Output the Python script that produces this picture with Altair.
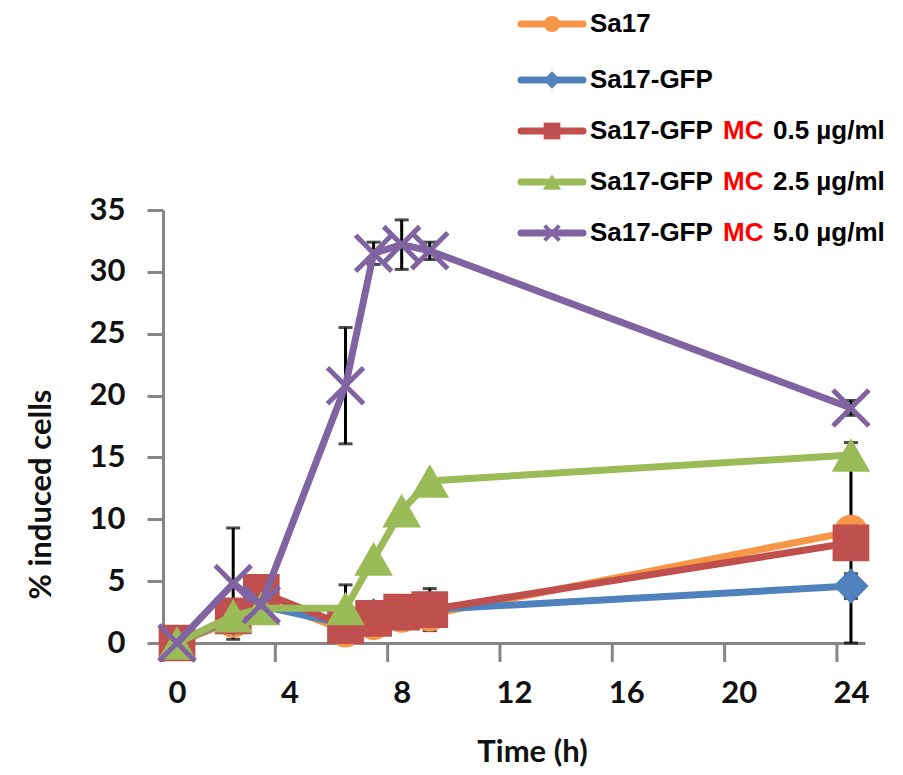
import altair as alt
import pandas as pd

# ---------------- data ----------------
times = [0, 2, 3, 6, 7, 8, 9, 24]
series_names = [
    "Sa17",
    "Sa17-GFP",
    "Sa17-GFP MC 0.5 µg/ml",
    "Sa17-GFP MC 2.5 µg/ml",
    "Sa17-GFP MC 5.0 µg/ml",
]
sa17 = [0, 1.8, 3.6, 1.0, 1.6, 2.2, 2.3, 9.0]
sa17_gfp = [0, 2.0, 3.0, 1.5, 2.2, 2.5, 2.7, 4.6]
mc05 = [0, 2.2, 4.1, 1.4, 2.0, 2.5, 2.7, 8.1]
mc25 = [0, 2.2, 2.8, 2.8, 6.8, 10.7, 13.1, 15.2]
mc50 = [0, 4.8, 3.1, 20.8, 31.5, 32.2, 31.7, 19.0]
series_values = [sa17, sa17_gfp, mc05, mc25, mc50]

colors = ["#F79646", "#4F81BD", "#C0504D", "#9BBB59", "#8064A2"]
shapes = ["circle", "diamond", "square", "triangle-up", "M-1,-1L1,1M-1,1L1,-1"]

# error bars (time, centre, half-width)
err_time = [2, 6, 7, 8, 9, 24, 6, 9, 24, 24]
err_center = [4.8, 20.8, 31.5, 32.2, 31.7, 19.0, 2.8, 2.7, 8.1, 4.6]
err_half = [4.5, 4.7, 0.9, 2.0, 0.7, 0.6, 1.9, 1.7, 8.1, 1.0]

x_labels = [0, 4, 8, 12, 16, 20, 24]
x_tick_marks = [-0.5, 3.5, 7.5, 11.5, 15.5, 19.5, 23.5]
y_ticks = [0, 5, 10, 15, 20, 25, 30, 35]

# ---------------- scales / axes ----------------
AX = "#868686"
FONT_AX = "Lato"
FONT_LEG = "Liberation Sans"
W, H = 702, 433

xscale = alt.Scale(domain=[-0.5, 24.5], nice=False, zero=False)
yscale = alt.Scale(domain=[0, 35], nice=False)

xaxis = alt.Axis(
    values=x_labels,
    format="d",
    labelFlush=False,
    labelOverlap=False,
    grid=False,
    ticks=False,
    domainColor=AX,
    domainWidth=3,
    labelFont=FONT_AX,
    labelFontWeight="bold",
    labelFontSize=31,
    labelColor="#111111",
    labelPadding=35,
    title="Time (h)",
    titleFont=FONT_AX,
    titleFontWeight="bold",
    titleFontSize=31,
    titleColor="#111111",
    titleX=369,
    titleY=109,
    titleBaseline="middle",
    titleAlign="center",
)
yaxis = alt.Axis(
    values=y_ticks,
    grid=False,
    tickSize=16,
    tickWidth=3,
    tickColor=AX,
    domainColor=AX,
    domainWidth=3,
    labelFont=FONT_AX,
    labelFontWeight="bold",
    labelFontSize=31,
    labelColor="#111111",
    labelPadding=22,
    title="% induced cells",
    titleFont=FONT_AX,
    titleFontWeight="bold",
    titleFontSize=31,
    titleColor="#111111",
    titleX=-122,
    titleY=284,
    titleAngle=270,
    titleBaseline="middle",
    titleAlign="center",
)

# ---------------- x tick marks (Excel-style, between labels) ----------------
tick_df = pd.DataFrame({"t": x_tick_marks})
x_ticks_layer = alt.Chart(tick_df).mark_rule(color=AX, strokeWidth=3).encode(
    x=alt.X("t:Q", scale=xscale, axis=xaxis),
    y=alt.value(H),
    y2=alt.value(H + 19),
)

# ---------------- error bars ----------------
err_df = pd.DataFrame({
    "t": err_time,
    "lo": [c - h for c, h in zip(err_center, err_half)],
    "hi": [c + h for c, h in zip(err_center, err_half)],
})
err_rule = alt.Chart(err_df).mark_rule(color="black", strokeWidth=3).encode(
    x=alt.X("t:Q", scale=xscale),
    y=alt.Y("lo:Q", scale=yscale, axis=yaxis),
    y2="hi:Q",
)
err_cap_hi = alt.Chart(err_df).mark_tick(color="black", orient="horizontal", size=14, thickness=3).encode(
    x=alt.X("t:Q", scale=xscale), y=alt.Y("hi:Q", scale=yscale)
)
err_cap_lo = alt.Chart(err_df).mark_tick(color="black", orient="horizontal", size=14, thickness=3).encode(
    x=alt.X("t:Q", scale=xscale), y=alt.Y("lo:Q", scale=yscale)
)

layers = [x_ticks_layer, err_rule, err_cap_hi, err_cap_lo]

# ---------------- series ----------------
for i, name in enumerate(series_names):
    df = pd.DataFrame({"t": times, "v": series_values[i], "s": name})
    line = alt.Chart(df).mark_line(color=colors[i], strokeWidth=7).encode(
        x=alt.X("t:Q", scale=xscale), y=alt.Y("v:Q", scale=yscale)
    )
    if i == 4:
        pt = alt.Chart(df).mark_point(shape=shapes[i], filled=False, size=1300,
                                      color=colors[i], strokeWidth=5, opacity=1)
    else:
        size = {0: 1150, 1: 1250, 2: 1350, 3: 1500}[i]
        pt = alt.Chart(df).mark_point(shape=shapes[i], filled=True, size=size,
                                      color=colors[i], opacity=1)
    pt = pt.encode(x=alt.X("t:Q", scale=xscale), y=alt.Y("v:Q", scale=yscale))
    layers += [line, pt]

# ---------------- legend ----------------
leg_rows = [-186, -130, -79, -28, 23]
leg_x1, leg_x2, leg_mx, leg_tx = 358, 420, 389, 427
leg_sizes = [260, 300, 280, 330, 220]
for i, name in enumerate(series_names):
    one = pd.DataFrame({"label": [name]})
    y = leg_rows[i]
    layers.append(alt.Chart(one).mark_rule(color=colors[i], strokeWidth=7, strokeCap="round").encode(
        x=alt.value(leg_x1), x2=alt.value(leg_x2), y=alt.value(y)))
    if i == 4:
        mk = alt.Chart(one).mark_point(shape=shapes[i], filled=False, size=leg_sizes[i],
                                       color=colors[i], strokeWidth=4, opacity=1)
    else:
        mk = alt.Chart(one).mark_point(shape=shapes[i], filled=True, size=leg_sizes[i],
                                       color=colors[i], opacity=1)
    layers.append(mk.encode(x=alt.value(leg_mx), y=alt.value(y)))
    if i < 2:
        parts = [(name, "black", leg_tx)]
    else:
        parts = [("Sa17-GFP", "black", leg_tx), ("MC", "#FF0000", 560), (name.split("MC ")[1], "black", 610)]
    for txt, col, px in parts:
        tdf = pd.DataFrame({"label": [txt]})
        layers.append(alt.Chart(tdf).mark_text(
            font=FONT_LEG, fontWeight="bold", fontSize=26, color=col,
            align="left", baseline="middle").encode(
            x=alt.value(px), y=alt.value(y), text="label:N"))

chart = alt.layer(*layers).properties(
    width=W, height=H,
    padding={"left": 17, "top": 3, "right": 5, "bottom": 0},
).configure_view(strokeWidth=0)

chart.save("out.html", embed_options={"renderer": "svg", "actions": False})
